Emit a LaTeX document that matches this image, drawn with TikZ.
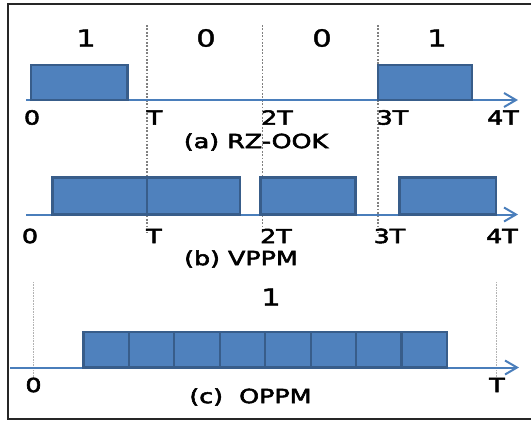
\documentclass[tikz,border=0pt]{standalone}
\usepackage{fontspec}
\setmainfont{DejaVu Sans}
\newfontfamily\labfont{DejaVu Sans}[FakeBold=2.5]
\newfontfamily\bitfont{DejaVu Sans}[FakeBold=1.5]
\usetikzlibrary{arrows.meta}
\definecolor{pulsefill}{RGB}{79,129,189}
\definecolor{pulseedge}{RGB}{56,93,138}
\definecolor{axisblue}{RGB}{74,126,187}
\newcommand{\wtxt}[1]{\scalebox{1.3}[1]{#1}}
\tikzset{
  pulse/.style={fill=pulsefill,draw=pulseedge,line width=2.2pt},
  axisline/.style={draw=axisblue,line width=2pt,-{Straight Barb[length=12pt,width=14pt,line width=2pt]}},
  guide/.style={draw=black!50,line width=1.8pt,dash pattern=on 1.8pt off 1.6pt},
  guidec/.style={draw=gray!60,line width=1.2pt,dash pattern=on 0.8pt off 0.8pt},
  bitlabel/.style={font=\bitfont\fontsize{23.5}{25}\selectfont,inner sep=0pt},
  ticklabel/.style={font=\labfont\fontsize{19.5}{21}\selectfont,inner sep=0pt},
  captext/.style={font=\labfont\fontsize{19.5}{21}\selectfont,inner sep=0pt},
}
\begin{document}
\begin{tikzpicture}[x=1pt,y=-1pt]
\useasboundingbox (0,0) rectangle (531,421);
% frame
\draw[line width=1.6pt,black!85] (531,4) -- (8,4) -- (8,419) -- (531,419);

% guide lines (a)/(b)
\coordinate (g1t) at (147,25);   \coordinate (g1b) at (147,233);
\coordinate (g2t) at (262.5,25); \coordinate (g2b) at (262.5,233);
\coordinate (g3t) at (378,25);   \coordinate (g3b) at (378,233);
\draw[guide] (g1t) -- (g1b);
\draw[guide] (g2t) -- (g2b);
\draw[guide] (g3t) -- (g3b);

% ---- (a) RZ-OOK
\coordinate (a0) at (26,100); \coordinate (a1) at (518,100);
\draw[axisline] (a0) -- (a1);
\draw[pulse] (31,65) rectangle (127.5,100);
\draw[pulse] (378,65) rectangle (472,100);
\node[bitlabel] (ab1) at (86,38) {\wtxt{1}};
\node[bitlabel] (ab2) at (206,38) {\wtxt{0}};
\node[bitlabel] (ab3) at (322,38) {\wtxt{0}};
\node[bitlabel] (ab4) at (437,38) {\wtxt{1}};
\node[ticklabel] (at0) at (32,117.5) {\wtxt{0}};
\node[ticklabel] (at1) at (154.5,117.5) {\wtxt{T}};
\node[ticklabel] (at2) at (277,117.5) {\wtxt{2T}};
\node[ticklabel] (at3) at (392.5,117.5) {\wtxt{3T}};
\node[ticklabel] (at4) at (503,117.5) {\wtxt{4T}};
\node[captext] (acap) at (256,142) {\wtxt{(a) RZ-OOK}};

% ---- (b) VPPM
\coordinate (b0) at (26,214.5); \coordinate (b1) at (518,214.5);
\draw[axisline] (b0) -- (b1);
\draw[pulse] (52.5,177.5) rectangle (146.7,214.5);
\draw[pulse] (146.7,177.5) rectangle (240,214.5);
\draw[pulse] (260.5,177.5) rectangle (355.5,214.5);
\draw[pulse] (399.5,177.5) rectangle (496,214.5);
\node[ticklabel] (bt0) at (30,236) {\wtxt{0}};
\node[ticklabel] (bt1) at (154,236) {\wtxt{T}};
\node[ticklabel] (bt2) at (276,236) {\wtxt{2T}};
\node[ticklabel] (bt3) at (389.5,236) {\wtxt{3T}};
\node[ticklabel] (bt4) at (502,236) {\wtxt{4T}};
\node[captext] (bcap) at (241,259) {\wtxt{(b) VPPM}};

% ---- (c) OPPM
\coordinate (c0t) at (33.5,282); \coordinate (c0b) at (33.5,378);
\coordinate (c1t) at (496.5,282); \coordinate (c1b) at (496.5,378);
\draw[guidec] (c0t) -- (c0b);
\draw[guidec] (c1t) -- (c1b);
\coordinate (cs) at (10,367.5); \coordinate (ce) at (519,367.5);
\draw[axisline] (cs) -- (ce);
\foreach \i in {0,...,7}{
  \draw[pulse] ({83.5+45.44*\i},332) rectangle ({83.5+45.44*(\i+1)},367.5);
}
\node[bitlabel] (cb) at (271,297) {\wtxt{1}};
\node[ticklabel] (ct0) at (33.5,385) {\wtxt{0}};
\node[ticklabel] (ct1) at (497,385) {\wtxt{T}};
\node[captext] (ccap) at (250.5,397) {\wtxt{(c)~ OPPM}};
\end{tikzpicture}
\end{document}
